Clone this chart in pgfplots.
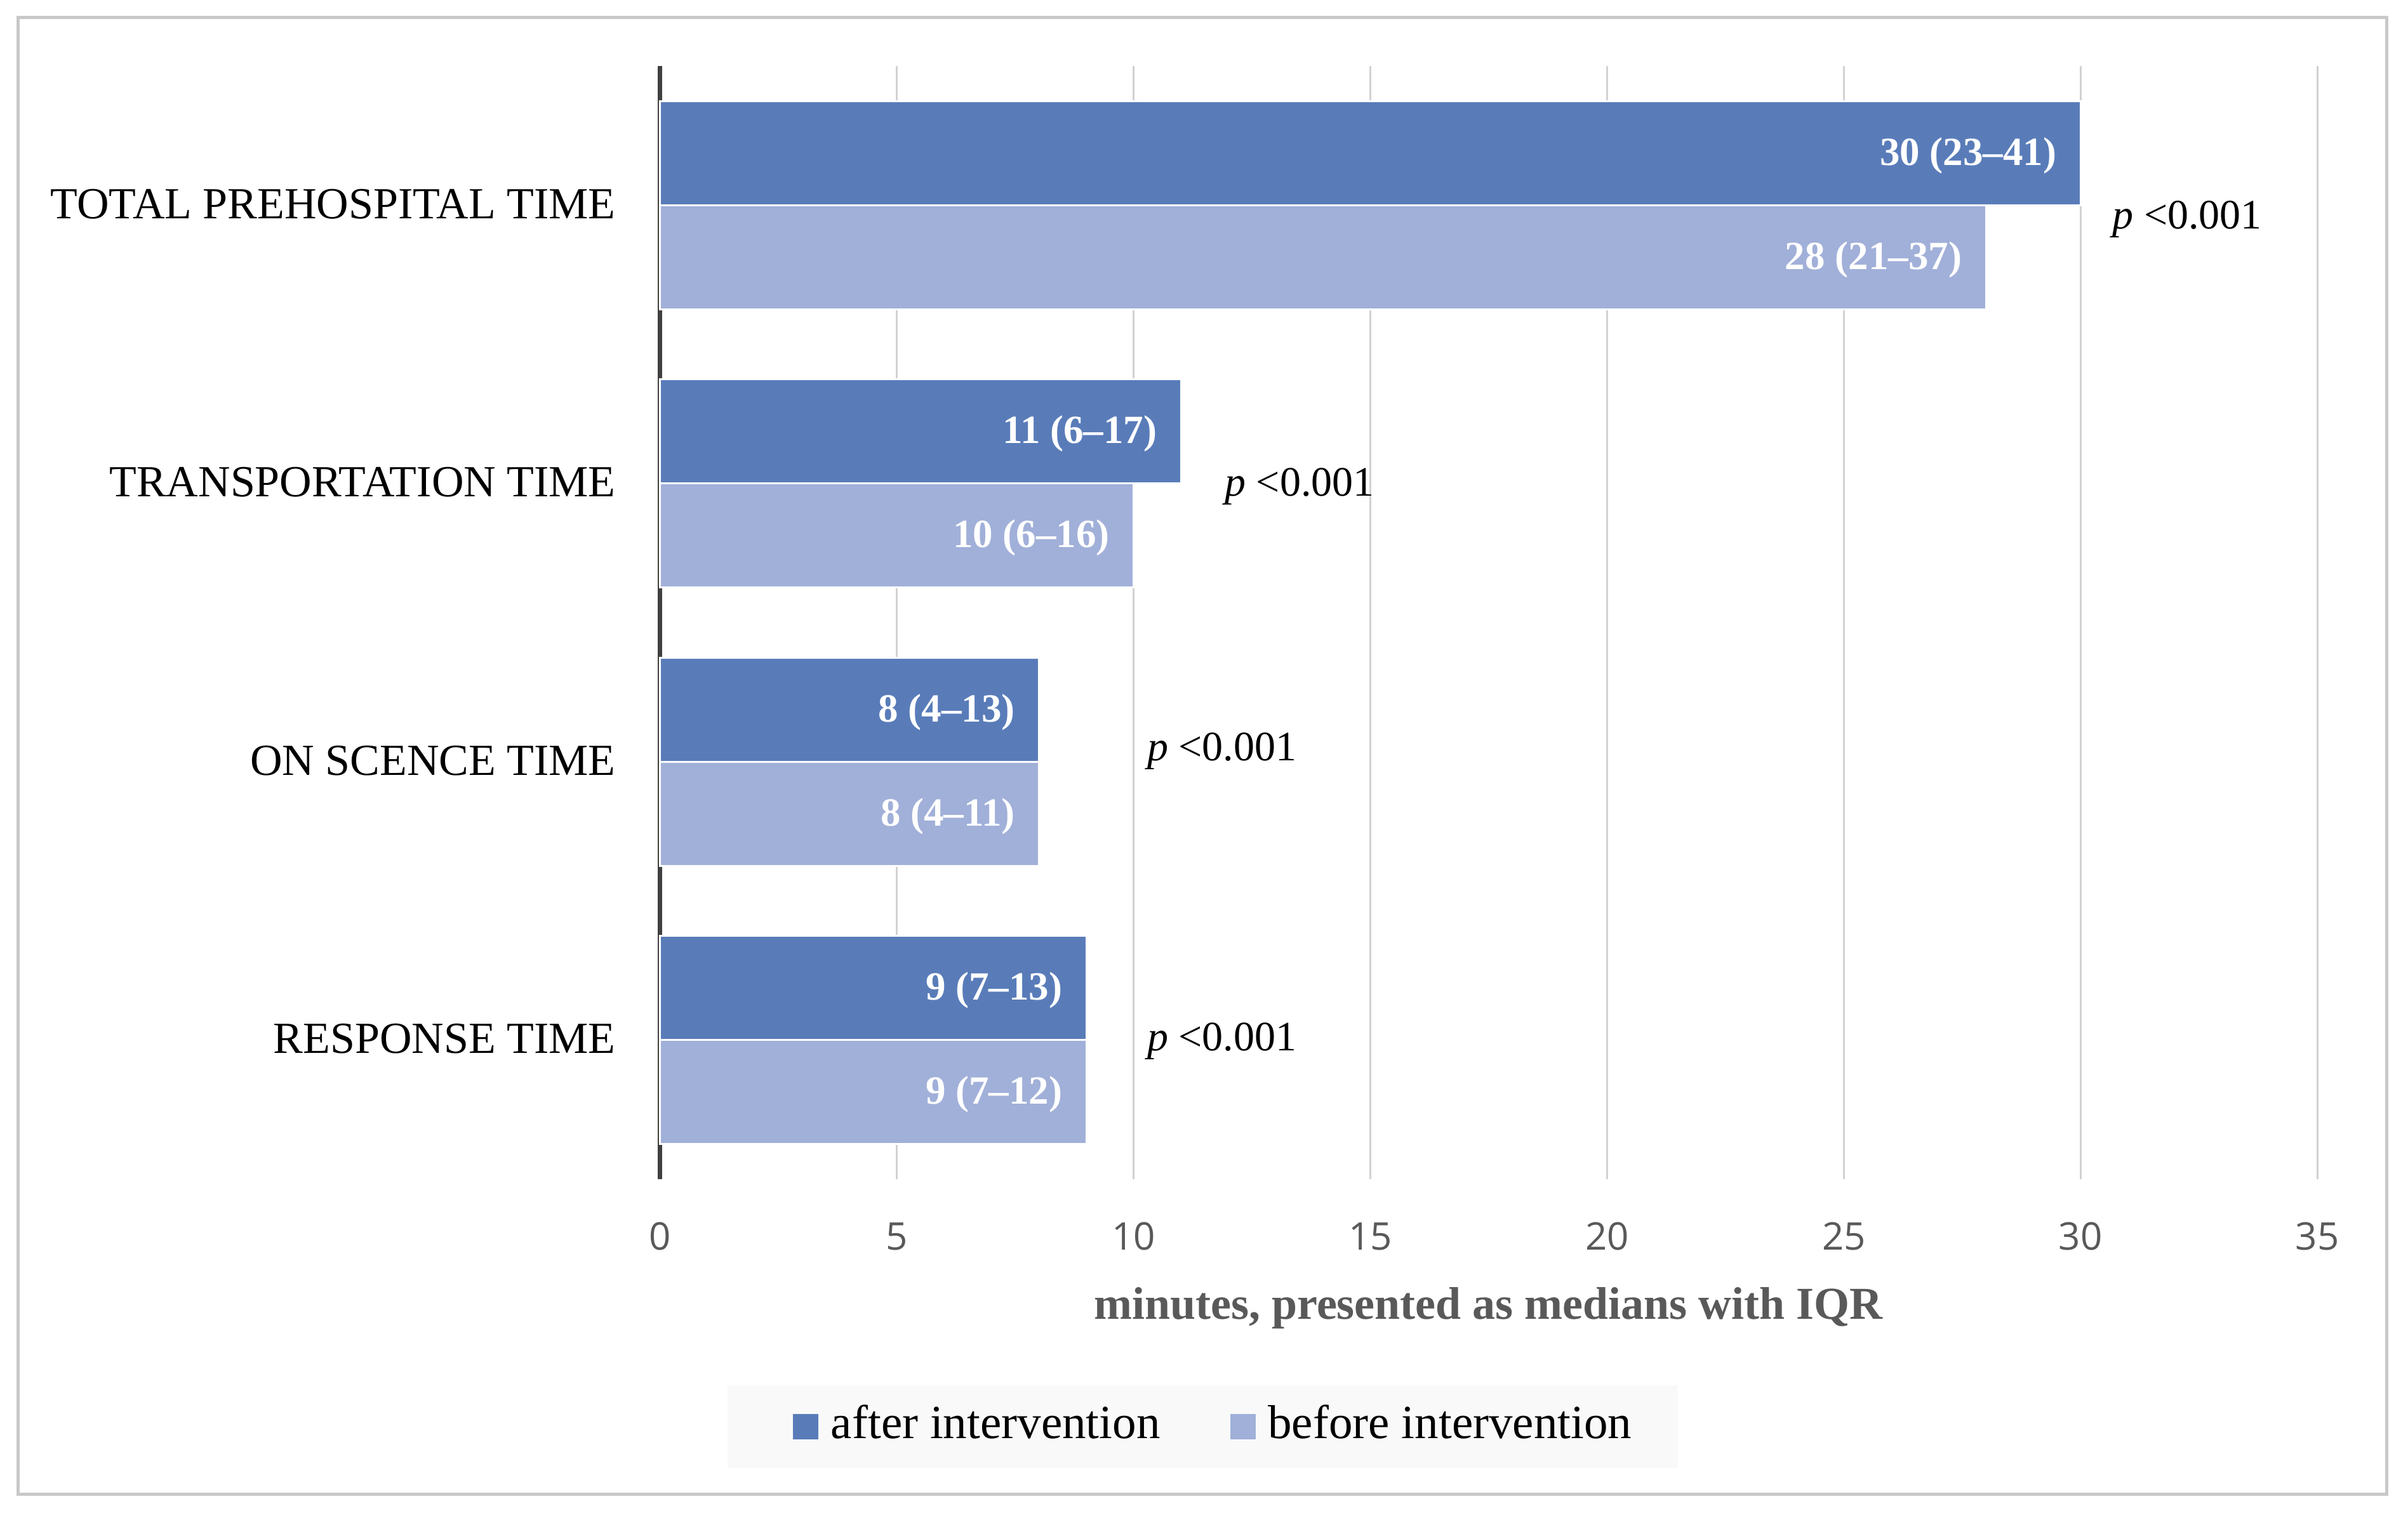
\documentclass[border=0pt]{standalone}
\usepackage{pgfplots}
\pgfplotsset{compat=1.18}
\usepackage{fontspec}
\setmainfont{Liberation Serif}
\newfontfamily\tickfont{Open Sans}
\definecolor{afterc}{RGB}{89,124,185}
\definecolor{beforec}{RGB}{161,176,217}
\definecolor{gridc}{RGB}{210,210,210}
\definecolor{axc}{RGB}{64,64,64}
\definecolor{labc}{RGB}{89,89,89}
\definecolor{framec}{RGB}{200,200,200}
\definecolor{legbg}{RGB}{249,249,249}
\pgfplotsset{sq legend/.style={legend image code/.code={\path[##1,draw=none] (0pt,-2pt) rectangle (4pt,2pt);}}}
\begin{document}
\begin{tikzpicture}
\path[use as bounding box] (-104pt,-52.5pt) rectangle (275.3pt,185.8pt);
\fill[white] (-104pt,-52.5pt) rectangle (275.3pt,185.8pt);
\draw[framec, line width=0.5pt] (-101.1pt,-49.6pt) rectangle (271.9pt,183pt);
\fill[legbg] (10.6pt,-32.5pt) rectangle (160.3pt,-45.5pt);
\begin{axis}[
  scale only axis, width=261pt, height=175.4pt,
  xmin=0, xmax=35, ymin=-0.5, ymax=3.5,
  xbar, bar width=0.374,
  xtick={0,5,...,35}, xticklabels={0,5,10,15,20,25,30,35},
  ytick={0,1,2,3},
  yticklabels={RESPONSE TIME, ON SCENCE TIME, TRANSPORTATION TIME, TOTAL PREHOSPITAL TIME},
  major tick length=0pt,
  xmajorgrids, grid style={gridc, line width=0.3pt},
  axis lines*=left,
  x axis line style={draw=none},
  y axis line style={axc, line width=0.7pt},
  xticklabel style={font=\tickfont\fontsize{6}{7}\selectfont, text=labc, yshift=-3.3pt},
  yticklabel style={font=\fontsize{7}{8}\selectfont, xshift=-3.5pt, yshift=0.2pt},
  xlabel={\textbf{minutes, presented as medians with IQR}},
  xlabel style={font=\fontsize{7.2}{8}\selectfont, text=labc, at={(axis description cs:0.5,0)}, anchor=center, yshift=-20.3pt},
  legend style={at={(axis description cs:0.337,0)}, yshift=-39pt, anchor=center, draw=none, fill=none,
    legend columns=2, font=\fontsize{7.5}{8}\selectfont, inner xsep=0pt, inner ysep=0pt,
    /tikz/every even column/.append style={column sep=9pt}},
  nodes near coords, point meta=explicit symbolic,
  every node near coord/.append style={anchor=east, font=\bfseries\fontsize{6.3}{7}\selectfont, text=white, xshift=-0.3pt, yshift=-0.4pt},
  clip=false,
]
\addplot[fill=afterc, draw=white, line width=0.3pt, bar shift=0.187, sq legend]
  table[x=x, y=y, meta=lab, row sep=\\] {x y lab\\ 9 0 {9 (7–13)}\\ 8 1 {8 (4–13)}\\ 11 2 {11 (6–17)}\\ 30 3 {30 (23–41)}\\};
\addplot[fill=beforec, draw=white, line width=0.3pt, bar shift=-0.187, sq legend]
  table[x=x, y=y, meta=lab, row sep=\\] {x y lab\\ 9 0 {9 (7–12)}\\ 8 1 {8 (4–11)}\\ 10 2 {10 (6–16)}\\ 28 3 {28 (21–37)}\\};
\legend{after intervention, before intervention}
\node[anchor=west, inner sep=0pt, font=\fontsize{6.6}{8}\selectfont] at (axis cs:30.65,2.949) {\textit{p} <0.001};
\node[anchor=west, inner sep=0pt, font=\fontsize{6.6}{8}\selectfont] at (axis cs:11.9,1.989) {\textit{p} <0.001};
\node[anchor=west, inner sep=0pt, font=\fontsize{6.6}{8}\selectfont] at (axis cs:10.26,1.038) {\textit{p} <0.001};
\node[anchor=west, inner sep=0pt, font=\fontsize{6.6}{8}\selectfont] at (axis cs:10.26,-0.003) {\textit{p} <0.001};
\end{axis}
\end{tikzpicture}
\end{document}
